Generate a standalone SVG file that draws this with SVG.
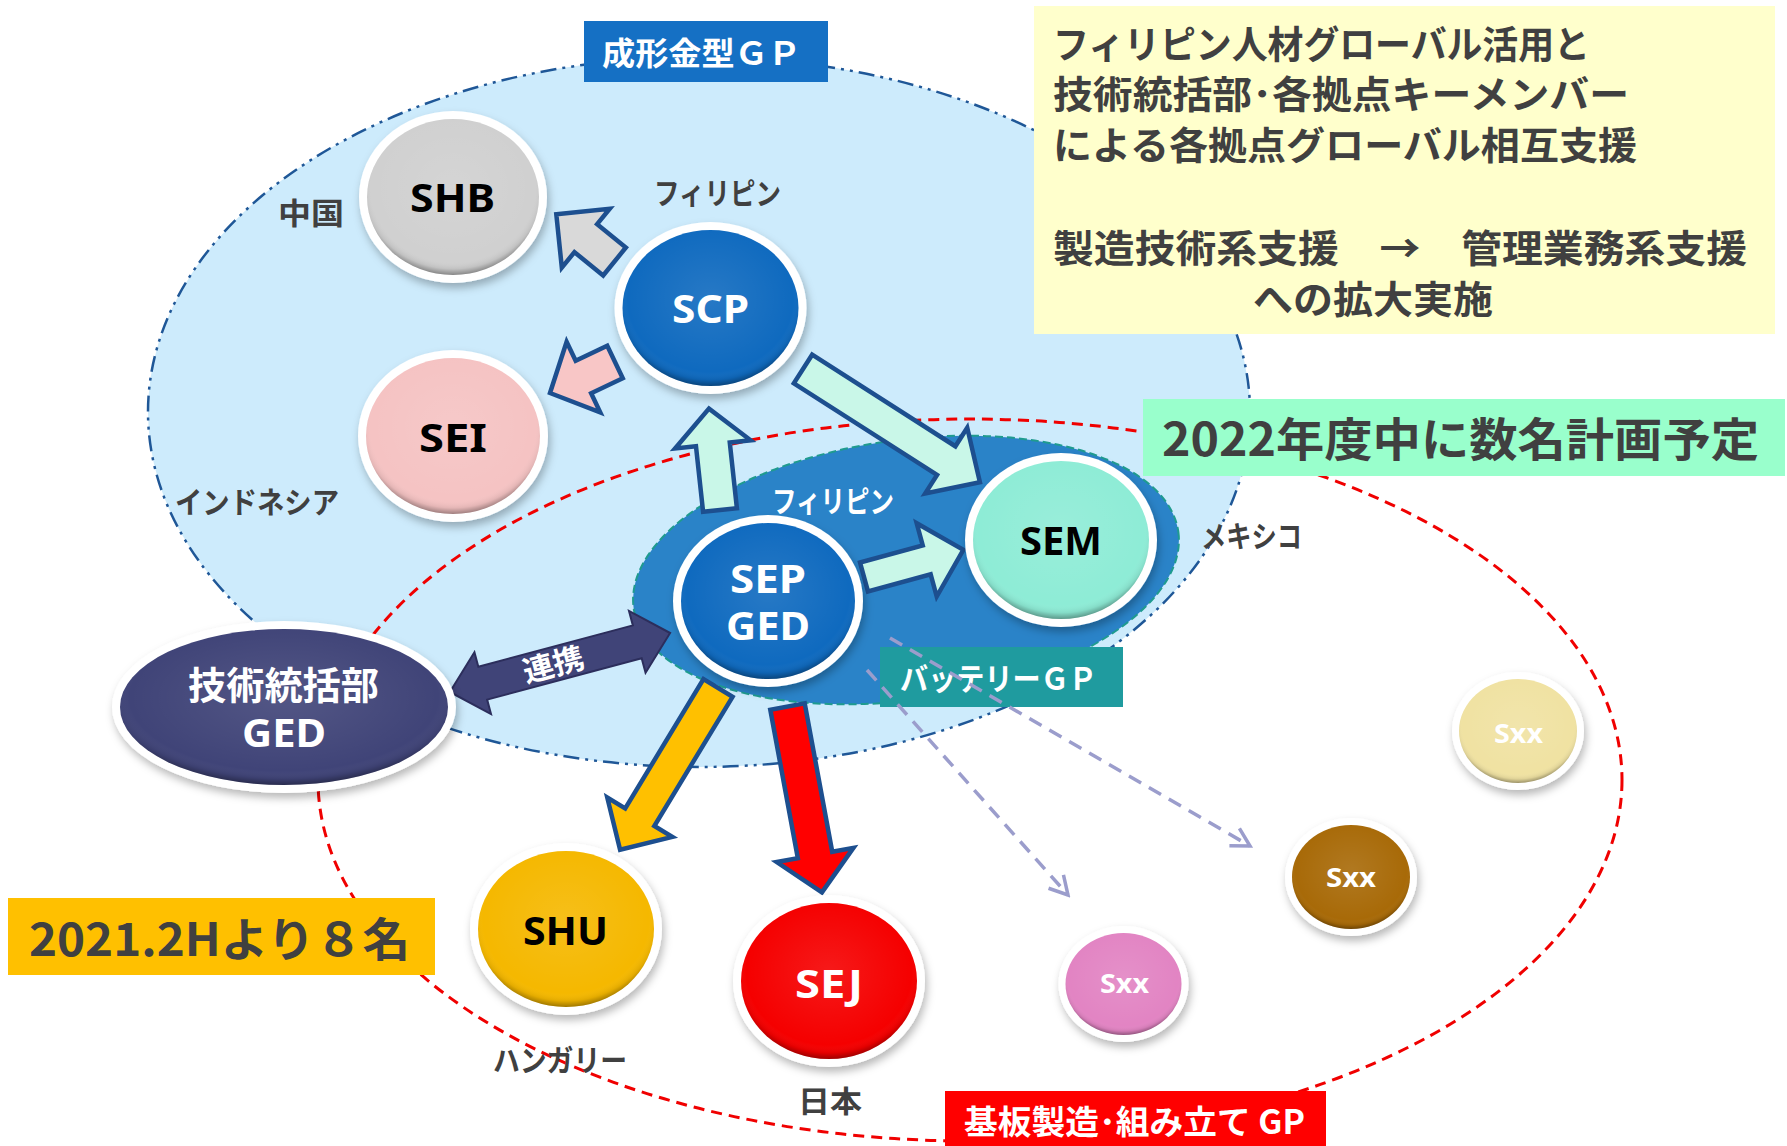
<svg xmlns="http://www.w3.org/2000/svg" width="1787" height="1146" viewBox="0 0 1787 1146">
<style>
.jp{font-family:"Noto Sans CJK JP","Noto Sans",sans-serif;font-weight:700}
.lat{font-family:"Noto Sans","Noto Sans CJK JP",sans-serif;font-weight:700}
.dk{fill:#404040}
.wh{fill:#ffffff}
.bk{fill:#000000}
.ring{fill:#ffffff;filter:url(#sh)}
.bev{fill:url(#bevel)}
.blk{stroke:#1d4f8f;stroke-width:4.5;stroke-linejoin:miter}
.mint{fill:#c9f7e8}
.dash{fill:none;stroke:#9b9dcc;stroke-width:3.5;stroke-dasharray:14 9;marker-end:url(#chev)}
</style>
<defs>
<filter id="sh" x="-20%" y="-20%" width="145%" height="150%">
<feDropShadow dx="2" dy="5" stdDeviation="4" flood-color="#000" flood-opacity="0.28"/>
</filter>
<radialGradient id="bevel" cx="0.5" cy="0.44" r="0.56">
<stop offset="0" stop-color="#fff" stop-opacity="0.1"/>
<stop offset="0.84" stop-color="#fff" stop-opacity="0"/>
<stop offset="0.93" stop-color="#000" stop-opacity="0.07"/>
<stop offset="1" stop-color="#000" stop-opacity="0.35"/>
</radialGradient>
<marker id="chev" markerUnits="userSpaceOnUse" markerWidth="26" markerHeight="26" viewBox="0 0 26 26" refX="23" refY="13" orient="auto">
<path d="M5,3 L23,13 L5,23" fill="none" stroke="#9b9dcc" stroke-width="3.5"/>
</marker>
</defs>

<g id="groups">
<ellipse id="mold-gp-area" cx="699" cy="412" rx="551" ry="355" fill="#cdebfc" stroke="#1f5797" stroke-width="2.5" stroke-dasharray="16 6 3 6 3 6"/>
<ellipse id="board-gp-area" cx="970" cy="780" rx="652" ry="361" fill="none" stroke="#f00000" stroke-width="3" stroke-dasharray="11 7"/>
<ellipse id="battery-gp-area" cx="906" cy="570" rx="275" ry="130" transform="rotate(-8 906 570)" fill="#2a83c8" stroke="#1f9b8f" stroke-width="2" stroke-dasharray="8 4"/>
</g>

<g id="labels">
<g id="label-mold">
<rect x="584" y="21" width="244" height="61" fill="#1570c4"/>
<text class="jp wh" x="602" y="65" font-size="32" textLength="199" lengthAdjust="spacingAndGlyphs">成形金型ＧＰ</text>
</g>
<g id="label-summary">
<rect x="1034" y="6" width="741" height="328" fill="#ffffcc"/>
<text class="jp dk" x="1053" y="58" font-size="38" textLength="537" lengthAdjust="spacingAndGlyphs">フィリピン人材グローバル活用と</text>
<text class="jp dk" x="1053" y="108" font-size="38" textLength="576" lengthAdjust="spacingAndGlyphs">技術統括部･各拠点キーメンバー</text>
<text class="jp dk" x="1053" y="159" font-size="38" textLength="584" lengthAdjust="spacingAndGlyphs">による各拠点グローバル相互支援</text>
<text class="jp dk" x="1053" y="262" font-size="38" textLength="694" lengthAdjust="spacingAndGlyphs">製造技術系支援　→　管理業務系支援</text>
<text class="jp dk" x="1253" y="313" font-size="38" textLength="240" lengthAdjust="spacingAndGlyphs">への拡大実施</text>
</g>
<g id="label-2022">
<rect x="1143" y="399" width="642" height="77" fill="#99ffcc"/>
<text class="jp dk" x="1162" y="456" font-size="46" textLength="597" lengthAdjust="spacingAndGlyphs">2022年度中に数名計画予定</text>
</g>
<g id="label-2021">
<rect x="8" y="898" width="427" height="77" fill="#ffc000"/>
<text class="jp dk" x="29" y="956" font-size="46" textLength="381" lengthAdjust="spacingAndGlyphs">2021.2Hより８名</text>
</g>
<g id="label-board">
<rect x="945" y="1091" width="381" height="55" fill="#ff0000"/>
<text class="jp wh" x="964" y="1134" font-size="33" textLength="341" lengthAdjust="spacingAndGlyphs">基板製造･組み立て GP</text>
</g>
<g id="label-battery">
<rect x="880" y="647" width="243" height="60" fill="#1f9b9f"/>
<text class="jp wh" x="900" y="690" font-size="31" font-weight="500" textLength="197" lengthAdjust="spacingAndGlyphs">バッテリーＧＰ</text>
</g>
</g>

<g id="connectors">
<polygon class="blk" fill="#d9d9d9" points="0,-18 37,-18 37,-38 75,0 37,38 37,18 0,18" transform="translate(614.5 261.5) rotate(219.1)"/>
<polygon class="blk" fill="#f8c6c6" points="0,-18 35,-18 35,-39 72,0 35,39 35,18 0,18" transform="translate(615 362) rotate(154.5)"/>
<polygon class="blk mint" points="0,-17 66,-17 66,-38 102,0 66,38 66,17 0,17" transform="translate(720 510) rotate(-96.2)"/>
<polygon class="blk mint" points="0,-17 170,-17 170,-39 210,0 170,39 170,17 0,17" transform="translate(803 369) rotate(32.6)"/>
<polygon class="blk mint" points="0,-15 65,-15 65,-38 103,0 65,38 65,15 0,15" transform="translate(864 577) rotate(-15.3)"/>
<polygon class="blk" fill="#ffc000" points="0,-17 151,-17 151,-38 189,0 151,38 151,17 0,17" transform="translate(718 688) rotate(121.2)"/>
<polygon class="blk" fill="#ff0000" points="0,-17.5 151,-17.5 151,-39 189,0 151,39 151,17.5 0,17.5" transform="translate(787.5 706.5) rotate(79.5)"/>
<g id="link-renkei" transform="translate(560 662.5) rotate(-15)">
<polygon fill="#404478" stroke="#2c2e5c" stroke-width="2" points="-114,0 -80,-32 -80,-17 80,-17 80,-32 114,0 80,32 80,17 -80,17 -80,32"/>
<text class="jp wh" x="-7" y="11" font-size="30" text-anchor="middle" textLength="62" lengthAdjust="spacingAndGlyphs">連携</text>
</g>
<line class="dash" x1="867" y1="670" x2="1068" y2="895"/>
<line class="dash" x1="890" y1="638" x2="1250" y2="846"/>
</g>

<g id="node-shb">
<ellipse class="ring" cx="453" cy="197" rx="94" ry="86"/>
<ellipse cx="453" cy="197" rx="86" ry="78" fill="#d0d0d0"/>
<ellipse class="bev" cx="453" cy="197" rx="86" ry="78"/>
<text class="lat bk" x="452.5" y="212" font-size="39" text-anchor="middle" textLength="85" lengthAdjust="spacingAndGlyphs">SHB</text>
</g>
<g id="node-scp">
<ellipse class="ring" cx="710.5" cy="308" rx="96" ry="86"/>
<ellipse cx="710.5" cy="308" rx="88" ry="78" fill="#0f6abf"/>
<ellipse class="bev" cx="710.5" cy="308" rx="88" ry="78"/>
<text class="lat wh" x="710.5" y="323" font-size="39" text-anchor="middle" textLength="77" lengthAdjust="spacingAndGlyphs">SCP</text>
</g>
<g id="node-sei">
<ellipse class="ring" cx="453" cy="436" rx="95" ry="86"/>
<ellipse cx="453" cy="436" rx="87" ry="78" fill="#f5c3c3"/>
<ellipse class="bev" cx="453" cy="436" rx="87" ry="78"/>
<text class="lat bk" x="453" y="452" font-size="39" text-anchor="middle" textLength="68" lengthAdjust="spacingAndGlyphs">SEI</text>
</g>
<g id="node-sep">
<ellipse class="ring" cx="768" cy="601" rx="95" ry="86"/>
<ellipse cx="768" cy="601" rx="87" ry="78" fill="#0f6abf"/>
<ellipse class="bev" cx="768" cy="601" rx="87" ry="78"/>
<text class="lat wh" x="768" y="593" font-size="39" text-anchor="middle" textLength="76" lengthAdjust="spacingAndGlyphs">SEP</text>
<text class="lat wh" x="768" y="640" font-size="39" text-anchor="middle" textLength="84" lengthAdjust="spacingAndGlyphs">GED</text>
</g>
<g id="node-sem">
<ellipse class="ring" cx="1061" cy="540" rx="96" ry="87"/>
<ellipse cx="1061" cy="540" rx="88" ry="79" fill="#8eecd6"/>
<ellipse class="bev" cx="1061" cy="540" rx="88" ry="79"/>
<text class="lat bk" x="1061" y="555" font-size="39" text-anchor="middle" textLength="82" lengthAdjust="spacingAndGlyphs">SEM</text>
</g>
<g id="node-ged">
<ellipse class="ring" cx="284" cy="707" rx="172" ry="86"/>
<ellipse cx="284" cy="707" rx="164" ry="78" fill="#404478"/>
<ellipse class="bev" cx="284" cy="707" rx="164" ry="78"/>
<text class="jp wh" x="283.5" y="699" font-size="38" text-anchor="middle" textLength="191" lengthAdjust="spacingAndGlyphs">技術統括部</text>
<text class="lat wh" x="284" y="747" font-size="39" text-anchor="middle" textLength="84" lengthAdjust="spacingAndGlyphs">GED</text>
</g>
<g id="node-shu">
<ellipse class="ring" cx="566" cy="929" rx="96" ry="86"/>
<ellipse cx="566" cy="929" rx="88" ry="78" fill="#f5b800"/>
<ellipse class="bev" cx="566" cy="929" rx="88" ry="78"/>
<text class="lat bk" x="565.5" y="945" font-size="39" text-anchor="middle" textLength="85" lengthAdjust="spacingAndGlyphs">SHU</text>
</g>
<g id="node-sej">
<ellipse class="ring" cx="829" cy="981" rx="96" ry="86"/>
<ellipse cx="829" cy="981" rx="88" ry="78" fill="#f50000"/>
<ellipse class="bev" cx="829" cy="981" rx="88" ry="78"/>
<text class="lat wh" x="829" y="998" font-size="39" text-anchor="middle" textLength="68" lengthAdjust="spacingAndGlyphs">SEJ</text>
</g>
<g id="node-sxx-pink">
<ellipse class="ring" cx="1123.5" cy="984" rx="65" ry="58"/>
<ellipse cx="1123.5" cy="984" rx="58" ry="51" fill="#e284c3"/>
<ellipse class="bev" cx="1123.5" cy="984" rx="58" ry="51"/>
<text class="lat wh" x="1124.5" y="993" font-size="27" text-anchor="middle" textLength="49" lengthAdjust="spacingAndGlyphs">Sxx</text>
</g>
<g id="node-sxx-brown">
<ellipse class="ring" cx="1351" cy="877" rx="66" ry="59"/>
<ellipse cx="1351" cy="877" rx="59" ry="52" fill="#a86a08"/>
<ellipse class="bev" cx="1351" cy="877" rx="59" ry="52"/>
<text class="lat wh" x="1351" y="887" font-size="27" text-anchor="middle" textLength="50" lengthAdjust="spacingAndGlyphs">Sxx</text>
</g>
<g id="node-sxx-yellow">
<ellipse class="ring" cx="1518" cy="731" rx="66" ry="59"/>
<ellipse cx="1518" cy="731" rx="59" ry="52" fill="#f0e2a2"/>
<ellipse class="bev" cx="1518" cy="731" rx="59" ry="52"/>
<text class="lat wh" x="1518.5" y="743" font-size="27" text-anchor="middle" textLength="49" lengthAdjust="spacingAndGlyphs">Sxx</text>
</g>

<g id="country-labels">
<text class="jp dk" x="278" y="224" font-size="30" textLength="66" lengthAdjust="spacingAndGlyphs">中国</text>
<text class="jp dk" x="654" y="204" font-size="30" textLength="127" lengthAdjust="spacingAndGlyphs">フィリピン</text>
<text class="jp dk" x="175" y="513" font-size="30" textLength="164" lengthAdjust="spacingAndGlyphs">インドネシア</text>
<text class="jp wh" x="772" y="512" font-size="30" font-weight="500" textLength="122" lengthAdjust="spacingAndGlyphs">フィリピン</text>
<text class="jp dk" x="1201" y="547" font-size="30" textLength="101" lengthAdjust="spacingAndGlyphs">メキシコ</text>
<text class="jp dk" x="493" y="1071" font-size="30" textLength="134" lengthAdjust="spacingAndGlyphs">ハンガリー</text>
<text class="jp dk" x="798" y="1112" font-size="30" textLength="64" lengthAdjust="spacingAndGlyphs">日本</text>
</g>
</svg>
